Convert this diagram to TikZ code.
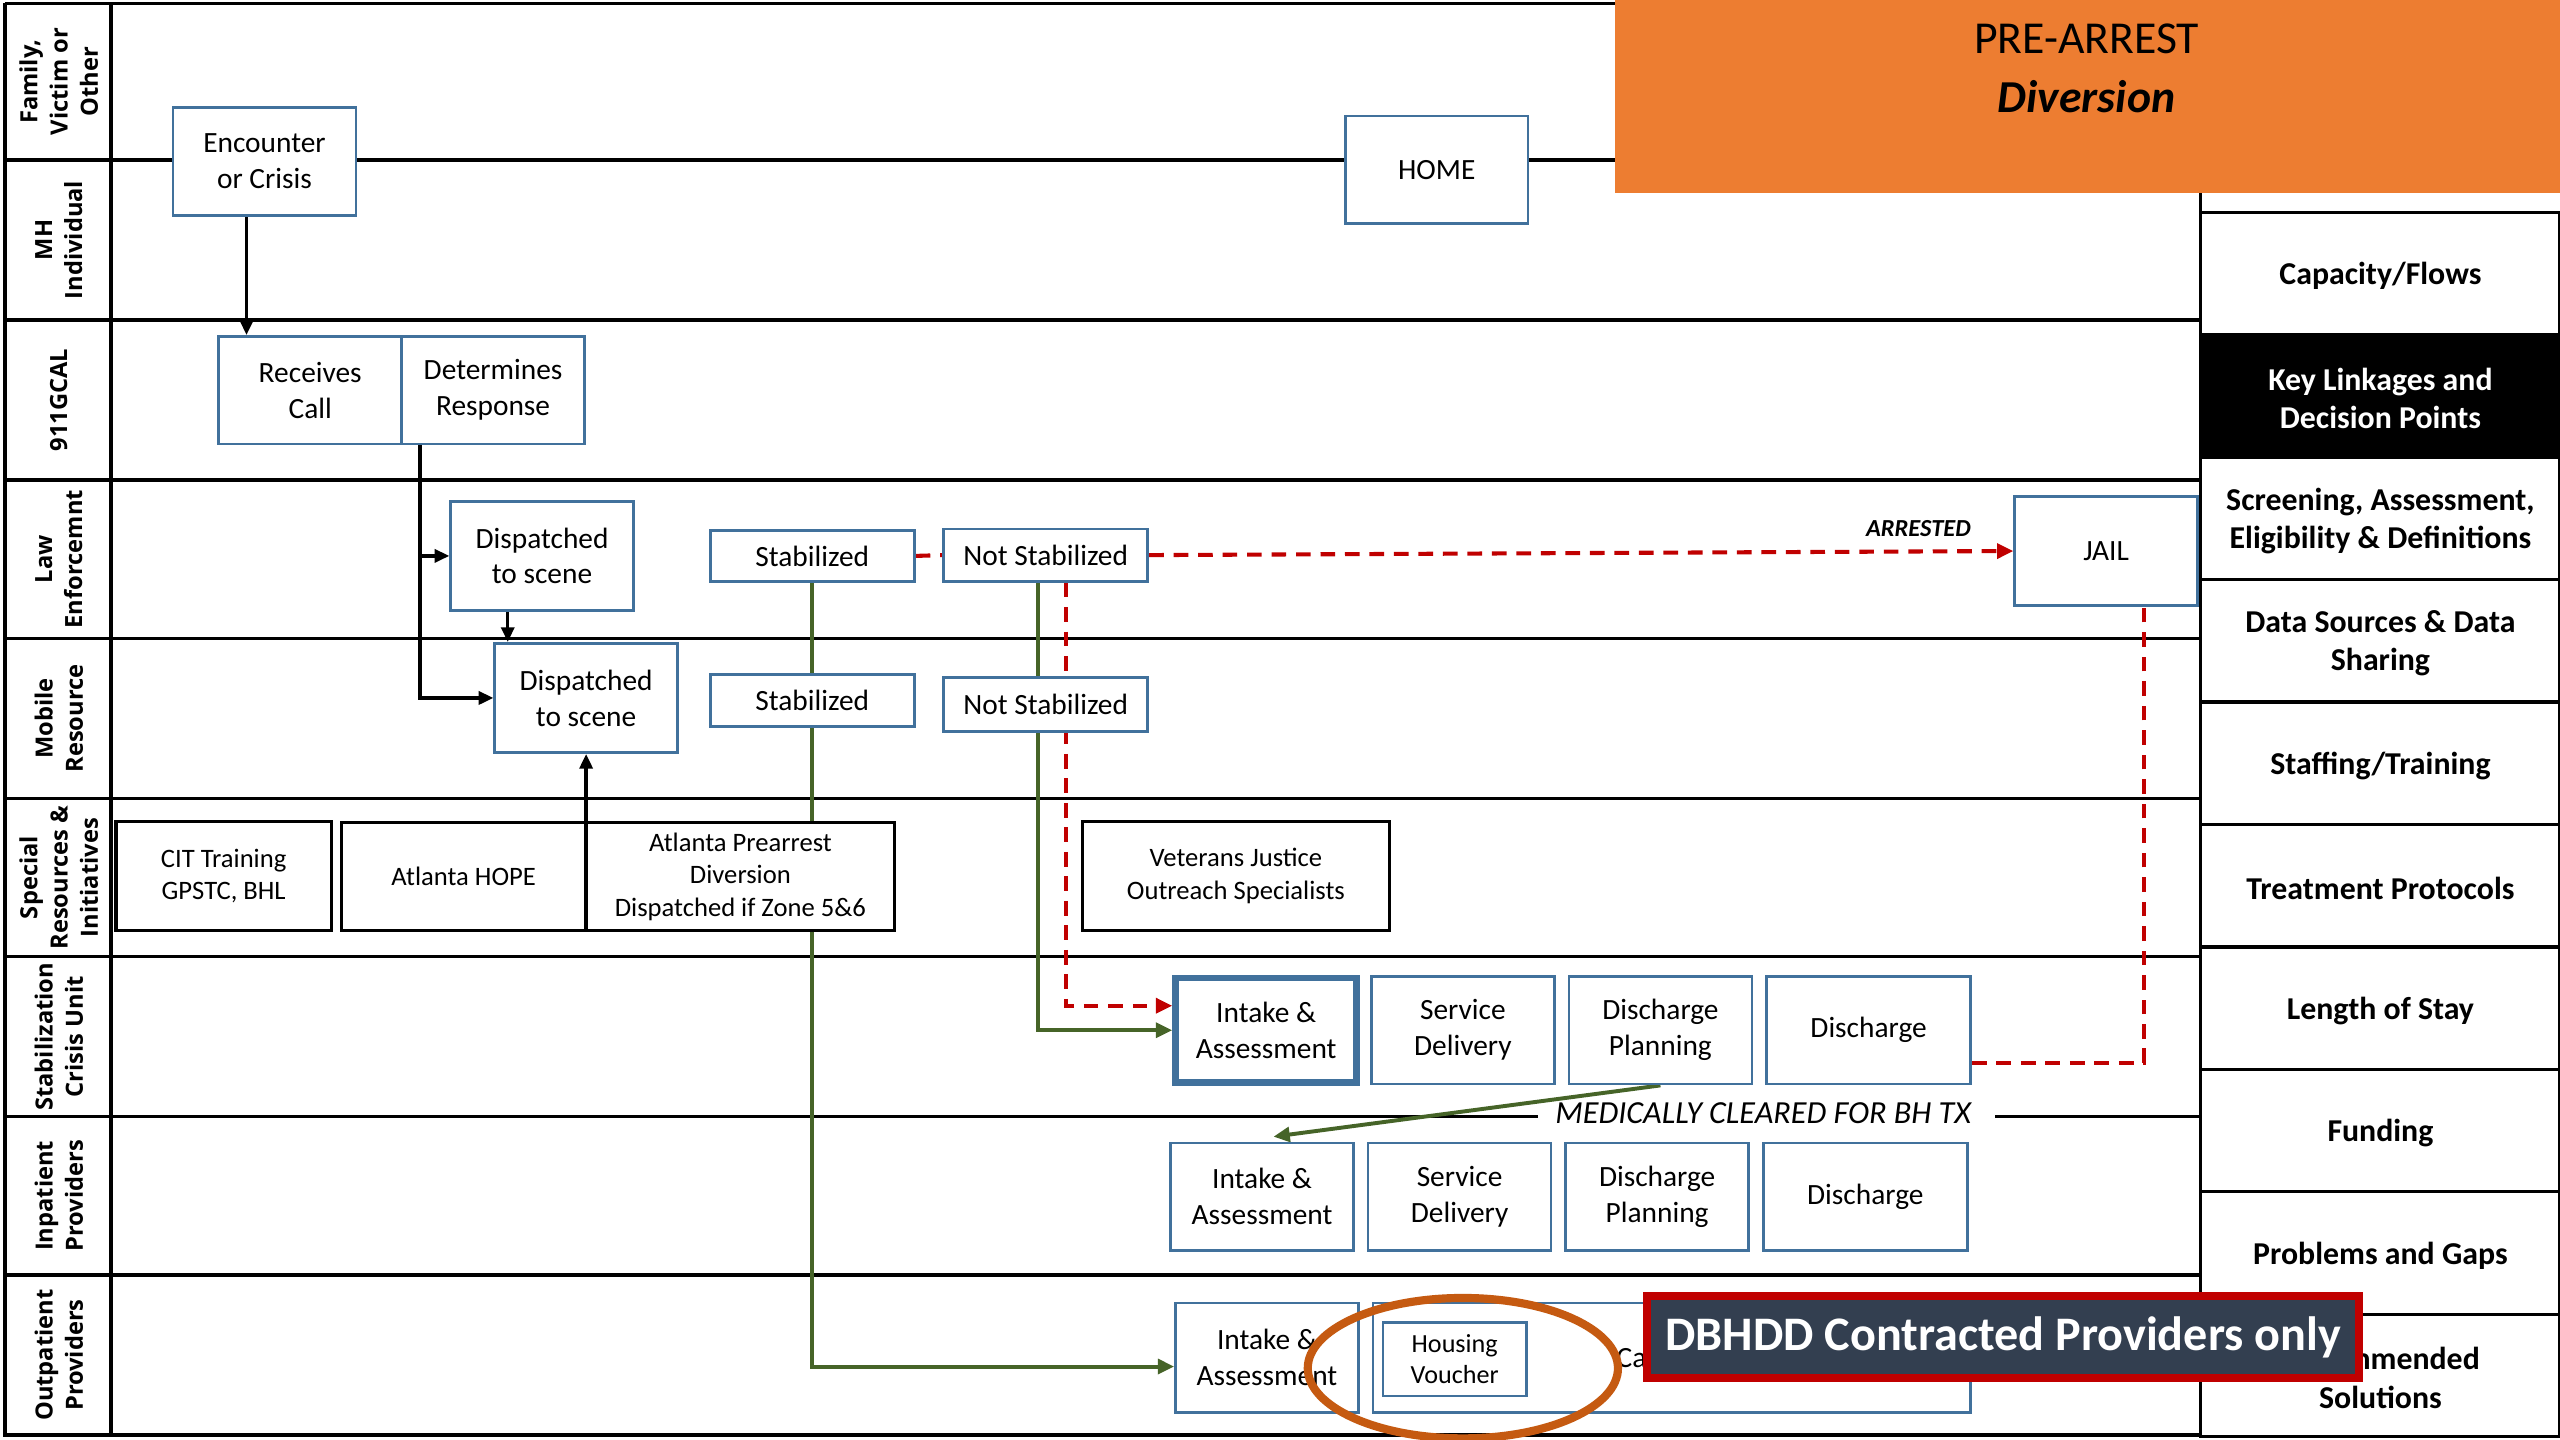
\documentclass[tikz,border=0pt]{standalone}
\usepackage{fontspec}
\setmainfont{Carlito}
\newfontfamily\lanefont{Open Sans}
\usetikzlibrary{arrows.meta,calc}
\definecolor{boxblue}{RGB}{65,113,156}
\definecolor{flowgreen}{RGB}{70,100,40}
\definecolor{arrestred}{RGB}{192,0,0}
\definecolor{titleorange}{RGB}{237,125,49}
\definecolor{ringorange}{RGB}{197,90,17}
\definecolor{bannerslate}{RGB}{51,63,80}

\pgfdeclarelayer{paper}
\pgfdeclarelayer{lanes}
\pgfdeclarelayer{links}
\pgfsetlayers{paper,lanes,links,main}

\tikzset{
  lane/.style={line width=2pt, draw=black},
  flowbox/.style={draw=boxblue, line width=1.6pt, fill=white, align=center, inner sep=0pt,
    font=\fontsize{18}{22}\selectfont},
  resbox/.style={draw=black, line width=2pt, fill=white, align=center, inner sep=0pt,
    font=\fontsize{16.3}{20}\selectfont},
  lanelabel/.style={rotate=90, align=center, font=\lanefont\bfseries\fontsize{14.5}{18.5}\selectfont},
  panelcell/.style={draw=black, line width=2pt, fill=white, minimum width=220, minimum height=75,
    inner sep=0pt},
  paneltext/.style={align=center, inner sep=0pt, font=\bfseries\fontsize{19.5}{23.5}\selectfont},
  blackarrow/.style={draw=black, line width=2pt, -{Triangle[length=9pt,width=8pt]}},
  greenarrow/.style={draw=flowgreen, line width=2.4pt, -{Triangle[length=10pt,width=9pt]}},
  reddash/.style={draw=arrestred, line width=2.5pt, dash pattern=on 9pt off 6pt},
  redarrow/.style={reddash, -{Triangle[length=10pt,width=9pt]}},
}

\begin{document}
\begin{tikzpicture}[x=1pt,y=-1pt]
\useasboundingbox (0,0) rectangle (1568,882);
\begin{pgfonlayer}{paper}
  \fill[white] (0,0) rectangle (1568,882);
\end{pgfonlayer}

% ---- swim lane grid ----
\begin{pgfonlayer}{lanes}
  \draw[lane] (3,2) -- (1000,2);
  \draw[lane] (3,2) -- (3,879) -- (1348,879);
  \draw[lane] (68,2) -- (68,879);
  \foreach \y in {98,196,294,391,489,586,781}
    \draw[lane] (3,\y) -- (1348,\y);
  \draw[lane] (3,684) -- (942,684);
  \draw[lane] (1222,684) -- (1348,684);
  \draw[lane] (1348,110) -- (1348,879);
\end{pgfonlayer}

% ---- lane labels ----
\node[lanelabel] (lab1) at (36,50) {Family,\\Victim or\\Other};
\node[lanelabel] (lab2) at (36,147) {MH\\Individual};
\node[lanelabel] (lab3) at (36,245) {911GCAL};
\node[lanelabel] (lab4) at (36,342.5) {Law\\Enforcemnt};
\node[lanelabel] (lab5) at (36,440) {Mobile\\Resource};
\node[lanelabel] (lab6) at (36,537.5) {Special\\Resources \&\\Initiatives};
\node[lanelabel] (lab7) at (36,635) {Stabilization\\Crisis Unit};
\node[lanelabel] (lab8) at (36,732.5) {Inpatient\\Providers};
\node[lanelabel] (lab9) at (36,830) {Outpatient\\Providers};

% ---- right-hand panel: cells ----
\foreach \i in {0,...,9}
  \node[panelcell] (cell\i) at (1458,{167.5+75*\i}) {};
\fill[black] (1348,205) rectangle (1568,280);

% ---- right-hand panel: headings ----
\node[paneltext] (p1) at (1458,169) {Capacity/Flows};
\node[paneltext, text=white] (p2) at (1458,244) {Key Linkages and\\Decision Points};
\node[paneltext] (p3) at (1458,319) {Screening, Assessment,\\Eligibility \& Definitions};
\node[paneltext] (p4) at (1458,394) {Data Sources \& Data\\Sharing};
\node[paneltext] (p5) at (1458,469) {Staffing/Training};
\node[paneltext] (p6) at (1458,544) {Treatment Protocols};
\node[paneltext] (p7) at (1458,619) {Length of Stay};
\node[paneltext] (p8) at (1458,694) {Funding};
\node[paneltext] (p9) at (1458,769) {Problems and Gaps};
\node[paneltext] (p10) at (1458,844) {Recommended\\Solutions};

% ---- title block ----
\node[fill=titleorange, minimum width=579, minimum height=118, inner sep=0pt, anchor=north west] (title) at (989,0) {};
\node[font=\fontsize{28}{34}\selectfont] (t1) at (1278,24) {PRE-ARREST};
\node[font=\bfseries\itshape\fontsize{28}{34}\selectfont] (t2) at (1278,59) {Diversion};

% ---- flow boxes ----
\node[flowbox, minimum width=112, minimum height=66] (enc) at (162,99) {Encounter\\or Crisis};
\node[flowbox, minimum width=112, minimum height=66] (home) at (880,104) {HOME};
\node[flowbox, minimum width=112, minimum height=66] (rc) at (190,239) {Receives\\Call};
\node[flowbox, minimum width=112, minimum height=66] (det) at (302,239) {Determines\\Response};
\node[flowbox, minimum width=112, minimum height=67] (dle) at (332,340.5) {Dispatched\\to scene};
\node[flowbox, minimum width=112, minimum height=67] (dmr) at (359,427.5) {Dispatched\\to scene};
\node[flowbox, minimum width=125, minimum height=31] (sle) at (497.5,340.5) {Stabilized};
\node[flowbox, minimum width=125, minimum height=32] (nsle) at (640.5,340) {Not Stabilized};
\node[flowbox, minimum width=125, minimum height=32] (smr) at (497.5,429) {Stabilized};
\node[flowbox, minimum width=125, minimum height=33] (nsmr) at (640.5,431.5) {Not Stabilized};
\node[flowbox, minimum width=112, minimum height=67] (jail) at (1290,337.5) {JAIL};

% ---- special resources ----
\node[resbox, minimum width=132, minimum height=67] (cit) at (137,536.5) {CIT Training\\GPSTC, BHL};
\node[resbox, minimum width=150, minimum height=66] (hope) at (284,537) {Atlanta HOPE};
\node[resbox, minimum width=189, minimum height=66] (pre) at (453.5,537) {Atlanta Prearrest\\Diversion\\Dispatched if Zone 5\&6};
\node[resbox, minimum width=188, minimum height=67] (vet) at (757,536.5) {Veterans Justice\\Outreach Specialists};

% ---- crisis unit ----
\node[flowbox, line width=4pt, minimum width=111, minimum height=64] (sin) at (775.5,631) {Intake \&\\Assessment};
\node[flowbox, minimum width=112, minimum height=66] (ssd) at (896,631) {Service\\Delivery};
\node[flowbox, minimum width=112, minimum height=66] (sdp) at (1017,631) {Discharge\\Planning};
\node[flowbox, minimum width=125, minimum height=66] (sdis) at (1144.5,631) {Discharge};

% ---- inpatient ----
\node[flowbox, minimum width=112, minimum height=66] (iin) at (773,733) {Intake \&\\Assessment};
\node[flowbox, minimum width=112, minimum height=66] (isd) at (894,733) {Service\\Delivery};
\node[flowbox, minimum width=112, minimum height=66] (idp) at (1015,733) {Discharge\\Planning};
\node[flowbox, minimum width=125, minimum height=66] (idis) at (1142.5,733) {Discharge};

% ---- outpatient ----
\node[flowbox, minimum width=112, minimum height=67] (oin) at (776,831.5) {Intake \&\\Assessment};
\node[flowbox, minimum width=366, minimum height=67] (oserv) at (1024,831.5) {};
\node[anchor=west, inner sep=0pt, font=\fontsize{18}{22}\selectfont] (ca) at (990,832) {Ca};
\node[flowbox, minimum width=88, minimum height=45, font=\fontsize{16}{19}\selectfont] (house) at (891,832.5) {Housing\\Voucher};

% ---- labels on connectors ----
\node[font=\bfseries\itshape\fontsize{15}{17}\selectfont] (arrested) at (1175,324) {ARRESTED};
\node[font=\itshape\fontsize{19.7}{23}\selectfont] (cleared) at (1080,682) {MEDICALLY CLEARED FOR BH TX};

% ---- connectors ----
\begin{pgfonlayer}{links}
  \coordinate (encout) at ([xshift=-11pt]enc.south);
  \draw[blackarrow] (encout) -- (encout |- rc.north);
  \coordinate (trunk) at ([xshift=12pt]det.south west);
  \draw[blackarrow] (trunk) |- (dmr.west);
  \draw[blackarrow] (trunk |- dle.west) -- (dle.west);
  \coordinate (dledown) at ([xshift=-21pt]dle.south);
  \draw[blackarrow] (dledown) -- (dledown |- dmr.north);
  \draw[blackarrow] (dmr.south |- pre.north) -- (dmr.south);

  \draw[reddash] (sle.east) -- (nsle.west);
  \draw[redarrow] (nsle.east) -- (jail.west);
  \coordinate (reddown) at ([xshift=12.5pt]nsle.south);
  \draw[redarrow] (reddown) |- ([yshift=15pt]sin.west);
  \draw[reddash] ([yshift=-20pt]sdis.east) -| ([xshift=23pt]jail.south);

  \draw[greenarrow] (sle.south) |- ([yshift=-5.5pt]oin.west);
  \coordinate (greendown) at ([xshift=-4.5pt]nsle.south);
  \draw[greenarrow] (greendown) |- (sin.west);
  \draw[greenarrow] (sdp.south) -- ([xshift=7pt,yshift=3pt]iin.north);
\end{pgfonlayer}

% ---- overlays ----
\draw[ringorange, line width=5pt] (896,838) ellipse [x radius=95pt, y radius=43pt];
\node[fill=bannerslate, draw=arrestred, line width=5pt, minimum width=436, minimum height=50,
  inner sep=0pt, text=white, font=\bfseries\fontsize{29.5}{34}\selectfont] (banner) at (1227,819)
  {DBHDD Contracted Providers only};
\end{tikzpicture}
\end{document}
